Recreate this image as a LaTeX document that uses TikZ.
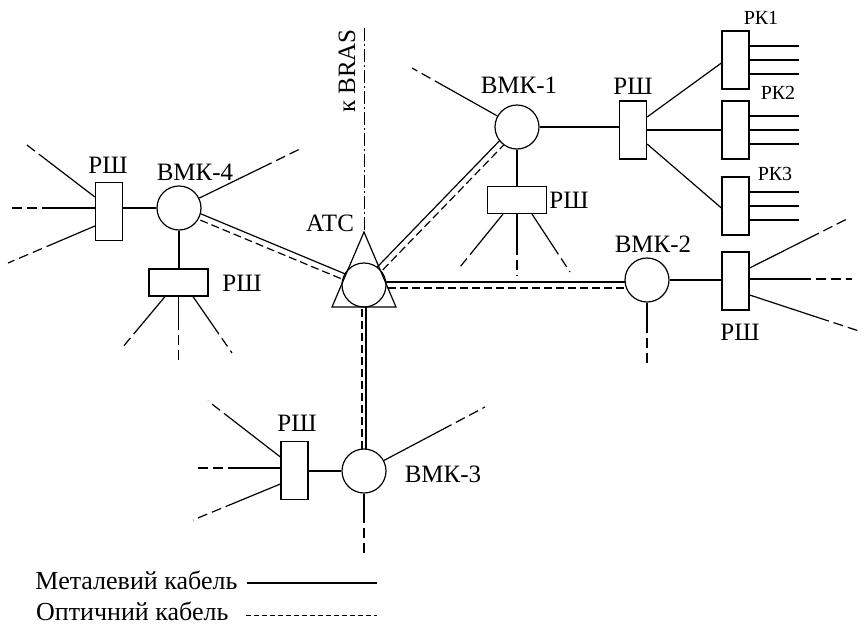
\documentclass[tikz,border=0pt]{standalone}
\usepackage{fontspec}
\setmainfont{Liberation Serif}
\usetikzlibrary{calc,backgrounds}
\newcommand\mystub[3]{%
  \draw (#1) -- ($(#1)!#3!(#2)$);
  \draw[dsh] ($(#1)!#3!(#2)$) -- (#2);}
\begin{document}
\begin{tikzpicture}[x=1pt,y=-1pt,line width=1.2pt,
  lbl/.style={font=\fontsize{25}{30}\selectfont,inner sep=0pt},
  leglbl/.style={font=\fontsize{26}{30}\selectfont,inner sep=0pt},
  small/.style={font=\fontsize{20}{24}\selectfont,inner sep=0pt},
  vmk/.style={circle,draw,fill=white,minimum size=44pt,inner sep=0pt},
  vbox/.style={rectangle,draw,fill=white,minimum width=27pt,minimum height=58pt,inner sep=0pt},
  hbox/.style={rectangle,draw,fill=white,minimum width=59pt,minimum height=27pt,inner sep=0pt},
  dsh/.style={dash pattern=on 10pt off 5pt},
  dshd/.style={dash pattern=on 8pt off 4pt},
  ldsh/.style={line width=1pt,dash pattern=on 5pt off 3pt},
  brasln/.style={line width=1pt,dash pattern=on 13pt off 3pt on 2pt off 3pt}]
\useasboundingbox (0,0) rectangle (865,627);

% ---- main nodes
\node[vmk] (atc) at (364,285) {};
\node[vmk] (bmk1) at (517,127) {};
\node[vmk] (bmk2) at (647,280) {};
\node[vmk] (bmk3) at (364,471) {};
\node[vmk] (bmk4) at (179,208) {};
\node[hbox] (rs1) at (517,200) {};
\node[vbox] (rs1b) at (633,130) {};
\node[vbox] (rk1) at (735.5,60) {};
\node[vbox] (rk2) at (735.5,130) {};
\node[vbox] (rk3) at (735.5,206) {};
\node[vbox] (rs2) at (735.5,281) {};
\node[vbox] (rs3) at (294.5,470.5) {};
\node[vbox] (rs4) at (109,211.5) {};
\node[hbox] (rs4b) at (178.5,282.5) {};

% ATC triangle
\coordinate (atcTop) at (364,232);
\coordinate (atcL) at (332,307);
\coordinate (atcR) at (396,307);
\draw (atcTop) -- (atcL) -- (atcR) -- cycle;
\coordinate (brasTop) at (364,28);

% free ends and start points
\coordinate (e4a) at (302,148);
\coordinate (s4b) at ([yshift=14.5pt]rs4.west); \coordinate (e4b) at (23,142);
\coordinate (s4c) at ([yshift=3.5pt]rs4.west);  \coordinate (e4c) at (10,208);
\coordinate (s4d) at ([yshift=-14.5pt]rs4.west); \coordinate (e4d) at (8,263);
\coordinate (s4e) at ([xshift=-13.5pt]rs4b.south); \coordinate (e4e) at (122,348);
\coordinate (s4f) at (rs4b.south); \coordinate (e4f) at (178.5,360);
\coordinate (s4g) at ([xshift=14.5pt]rs4b.south); \coordinate (e4g) at (232,353);

\coordinate (e1a) at (412,68);
\coordinate (s1b) at ([xshift=-14pt]rs1.south); \coordinate (e1b) at (460,267);
\coordinate (s1c) at (rs1.south); \coordinate (e1c) at (517,275);
\coordinate (s1d) at ([xshift=15pt]rs1.south); \coordinate (e1d) at (570,272);

\coordinate (s2a) at ([yshift=13pt]rs2.east); \coordinate (e2a) at (847,219);
\coordinate (s2b) at ([yshift=2pt]rs2.east); \coordinate (e2b) at (852,279);
\coordinate (s2c) at ([yshift=-14pt]rs2.east); \coordinate (e2c) at (862,332);
\coordinate (e2d) at (647,365);

\coordinate (s3a) at ([yshift=13.5pt]rs3.west); \coordinate (e3a) at (208,401);
\coordinate (s3b) at ([yshift=2.5pt]rs3.west); \coordinate (e3b) at (195,468);
\coordinate (s3c) at ([yshift=-13.5pt]rs3.west); \coordinate (e3c) at (193,520);
\coordinate (e3d) at (485,407);
\coordinate (e3e) at (364,555);

\coordinate (atcUp) at ([yshift=3pt]atc.center);
\coordinate (atcDn) at ([yshift=-3pt]atc.center);

\begin{scope}[on background layer]
\begin{scope}[line width=1.2pt]
  \draw[brasln] (brasTop) -- (atcTop);
  % double (metal + optical) trunks
  \draw ($(atc)!3pt!90:(bmk1)$) -- ($(bmk1)!3pt!-90:(atc)$);
  \draw[dshd] ($(atc)!3pt!-90:(bmk1)$) -- ($(bmk1)!3pt!90:(atc)$);
  \draw ($(atc)!3pt!-90:(bmk4)$) -- ($(bmk4)!3pt!90:(atc)$);
  \draw[dshd] ($(atc)!3pt!90:(bmk4)$) -- ($(bmk4)!3pt!-90:(atc)$);
  \draw (atcUp) -- (atcUp -| bmk2);
  \draw[dshd] (atcDn) -- (atcDn -| bmk2);
  \draw ([xshift=2pt]atc.center) -- ([xshift=2pt]bmk3.center);
  \draw[dshd] ([xshift=-2pt]atc.center) -- ([xshift=-2pt]bmk3.center);
  % local links
  \draw (bmk1) -- (bmk1 -| rs1b.west);
  \draw (bmk1) -- (rs1);
  \draw (rs1b) -- (rk2);
  \draw ([yshift=13pt]rs1b.east) -- ([yshift=-3pt]rk1.west);
  \draw ([yshift=-14pt]rs1b.east) -- ([yshift=-2pt]rk3.west);
  \draw (bmk2) -- (bmk2 -| rs2.west);
  \draw (bmk3) -- (bmk3 -| rs3.east);
  \draw (bmk4) -- (bmk4 -| rs4.east);
  \draw (bmk4) -- (bmk4 |- rs4b.north);
  \foreach \k in {rk1,rk2,rk3}{\foreach \d in {14,0,-14}{\draw ([yshift=\d pt]\k.east) -- ++(49,0);}}
  % stubs
  \mystub{bmk4}{e4a}{0.68}
  \mystub{s4b}{e4b}{0.67}
  \mystub{s4c}{e4c}{0.5}
  \mystub{s4d}{e4d}{0.45}
  \mystub{s4e}{e4e}{0.58}
  \mystub{s4f}{e4f}{0.37}
  \mystub{s4g}{e4g}{0.52}
  \mystub{bmk1}{e1a}{0.7}
  \mystub{s1b}{e1b}{0.62}
  \mystub{s1c}{e1c}{0.5}
  \mystub{s1d}{e1d}{0.55}
  \mystub{s2a}{e2a}{0.62}
  \mystub{s2b}{e2b}{0.5}
  \mystub{s2c}{e2c}{0.62}
  \mystub{bmk2}{e2d}{0.5}
  \mystub{s3a}{e3a}{0.67}
  \mystub{s3b}{e3b}{0.5}
  \mystub{s3c}{e3c}{0.52}
  \mystub{bmk3}{e3d}{0.65}
  \mystub{bmk3}{e3e}{0.5}
\end{scope}
\end{scope}

% ---- labels
\node[lbl] (tatc) at (330,223) {АТС};
\node[lbl,rotate=90] (tbras) at (347,71) {к BRAS};
\node[lbl] (t1) at (519,85) {ВМК-1};
\node[lbl] (t2) at (653,244) {ВМК-2};
\node[lbl] (t3) at (443,474) {ВМК-3};
\node[lbl] (t4) at (195,172) {ВМК-4};
\node[lbl] (trs1b) at (633,86) {РШ};
\node[lbl] (trs1) at (569,200) {РШ};
\node[lbl] (trs2) at (740,332) {РШ};
\node[lbl] (trs3) at (297,423) {РШ};
\node[lbl] (trs4) at (108,165) {РШ};
\node[lbl] (trs4b) at (242,283) {РШ};
\node[small] (trk1) at (761,18) {РК1};
\node[small] (trk2) at (778,93) {РК2};
\node[small] (trk3) at (775,174) {РК3};

% ---- legend
\node[leglbl,anchor=base east] (leg1) at (238,589) {Металевий кабель};
\node[leglbl,anchor=base east] (leg2) at (229,620) {Оптичний кабель};
\coordinate (l1s) at (247,583); \coordinate (l1e) at (377,583);
\coordinate (l2s) at (246,615); \coordinate (l2e) at (377,615);
\draw (l1s) -- (l1e);
\draw[ldsh] (l2s) -- (l2e);
\end{tikzpicture}
\end{document}
